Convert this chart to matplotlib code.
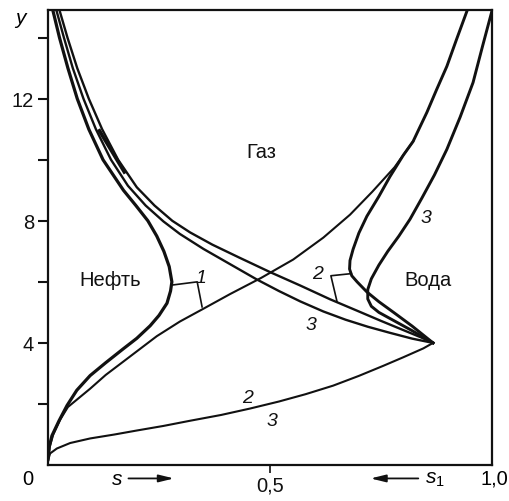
import matplotlib.pyplot as plt

plt.rcParams['font.family'] = ['Liberation Sans', 'DejaVu Sans']
plt.rcParams['mathtext.fontset'] = 'custom'
plt.rcParams['mathtext.it'] = 'Liberation Sans:italic'
plt.rcParams['mathtext.rm'] = 'Liberation Sans'

# oil boundary, case 1 (thick curve with the nose)
oil1_s = [0.011, 0.026, 0.045, 0.066, 0.092, 0.124, 0.17, 0.198, 0.225, 0.245, 0.261, 0.273,
          0.279, 0.276, 0.268, 0.25, 0.23, 0.2, 0.169, 0.13, 0.095, 0.065, 0.043, 0.025, 0.009, 0.003, 0.0]
oil1_y = [14.9, 14.0, 13.0, 12.0, 11.0, 10.0, 9.0, 8.5, 8.0, 7.5, 7.0, 6.5,
          6.0, 5.7, 5.3, 4.9, 4.56, 4.15, 3.8, 3.35, 2.93, 2.45, 1.95, 1.45, 0.96, 0.6, 0.15]

# curve rising from the origin to the junction near s = 0.82
rise_s = [0.0, 0.004, 0.012, 0.028, 0.045, 0.07, 0.095, 0.13, 0.169, 0.207, 0.245, 0.297, 0.35,
          0.41, 0.48, 0.552, 0.62, 0.68, 0.73, 0.78, 0.822]
rise_y = [0.15, 0.6, 1.0, 1.5, 1.9, 2.2, 2.5, 2.95, 3.38, 3.8, 4.22, 4.7, 5.12,
          5.6, 6.13, 6.73, 7.45, 8.2, 8.95, 9.75, 10.6]

# double line from the upper left corner to the common point
upper_a_s = [0.026, 0.044, 0.066, 0.092, 0.122, 0.158, 0.2, 0.24, 0.28, 0.32, 0.37, 0.43, 0.5,
             0.568, 0.635, 0.7, 0.75, 0.8, 0.84, 0.867]
upper_a_y = [14.9, 14.0, 13.0, 12.0, 11.0, 10.0, 9.1, 8.5, 8.0, 7.62, 7.22, 6.8, 6.32,
             5.88, 5.43, 5.03, 4.72, 4.42, 4.18, 4.0]
upper_b_s = [0.019, 0.036, 0.056, 0.08, 0.108, 0.142, 0.18, 0.22, 0.26, 0.297, 0.35, 0.41, 0.47,
             0.52, 0.568, 0.62, 0.67, 0.72, 0.77, 0.82, 0.867]
upper_b_y = [14.9, 14.0, 13.0, 12.0, 11.0, 10.0, 9.15, 8.5, 7.98, 7.57, 7.08, 6.58, 6.08,
             5.7, 5.36, 5.03, 4.76, 4.53, 4.33, 4.14, 4.0]
# short dark stroke between the two lines
dark_s = [0.116, 0.172]
dark_y = [10.95, 9.6]

# lower curve (cases 2 and 3)
low_s = [0.0, 0.005, 0.02, 0.05, 0.095, 0.15, 0.2, 0.26, 0.32, 0.39, 0.455, 0.52, 0.58,
         0.642, 0.7, 0.755, 0.8, 0.845, 0.867]
low_y = [0.15, 0.38, 0.54, 0.72, 0.87, 1.0, 1.13, 1.28, 1.45, 1.64, 1.85, 2.08, 2.32,
         2.6, 2.92, 3.25, 3.53, 3.82, 4.0]

# water boundary, case 2
water2_s = [0.944, 0.92, 0.898, 0.875, 0.853, 0.835, 0.822, 0.8, 0.77, 0.745, 0.718, 0.7, 0.687,
            0.68, 0.679, 0.684, 0.696, 0.718, 0.745, 0.78, 0.82, 0.867]
water2_y = [14.9, 13.95, 13.06, 12.3, 11.55, 11.0, 10.6, 10.15, 9.45, 8.8, 8.15, 7.6, 7.07,
            6.7, 6.42, 6.2, 6.0, 5.67, 5.35, 4.98, 4.55, 4.0]

# water boundary, case 3
water3_s = [1.0, 0.978, 0.957, 0.928, 0.898, 0.87, 0.842, 0.815, 0.79, 0.765, 0.745, 0.728, 0.72,
            0.72, 0.728, 0.745, 0.78, 0.82, 0.867]
water3_y = [14.9, 13.7, 12.53, 11.4, 10.34, 9.5, 8.75, 8.05, 7.5, 7.0, 6.55, 6.1, 5.75,
            5.44, 5.2, 5.0, 4.72, 4.4, 4.0]

# brackets joining curves of one case
bracket1_s = [0.282, 0.336, 0.347]
bracket1_y = [5.9, 6.0, 5.18]
bracket2_s = [0.683, 0.637, 0.651]
bracket2_y = [6.27, 6.2, 5.34]

curve_labels = [("1", 0.345, 6.15), ("2", 0.606, 6.27), ("3", 0.592, 4.6),
                ("2", 0.45, 2.2), ("3", 0.505, 1.45), ("3", 0.85, 8.12)]
region_labels = [("Газ", 0.48, 10.28), ("Нефть", 0.14, 6.07), ("Вода", 0.856, 6.07)]

fig = plt.figure(figsize=(5.1, 5.02), dpi=100)
ax = fig.add_axes([0.094, 0.0717, 0.871, 0.906])

k = '#111111'
ax.plot(oil1_s, oil1_y, color=k, lw=2.3, solid_capstyle='round')
ax.plot(rise_s, rise_y, color=k, lw=1.5)
ax.plot(upper_a_s, upper_a_y, color=k, lw=1.7)
ax.plot(upper_b_s, upper_b_y, color=k, lw=1.7)
ax.plot(dark_s, dark_y, color=k, lw=2.6)
ax.plot(low_s, low_y, color=k, lw=1.5)
ax.plot(water2_s, water2_y, color=k, lw=2.1)
ax.plot(water3_s, water3_y, color=k, lw=2.1)
ax.plot(bracket1_s, bracket1_y, color=k, lw=1.2)
ax.plot(bracket2_s, bracket2_y, color=k, lw=1.2)

for t, sx, sy in curve_labels:
    ax.text(sx, sy, t, fontsize=14, style='italic', ha='center', va='center', color=k)
for t, sx, sy in region_labels:
    ax.text(sx, sy, t, fontsize=14.5, ha='center', va='center', color=k)

ax.set_xlim(0, 1.0)
ax.set_ylim(0, 14.9)
ax.set_yticks([2, 4, 6, 8, 10, 12, 14])
ax.set_yticklabels(['', '4', '', '8', '', '12', ''])
ax.set_xticks([0.5])
ax.set_xticklabels(['0,5'])
ax.tick_params(axis='y', direction='out', length=7, width=1.5, labelsize=14.5, pad=3, colors=k)
ax.tick_params(axis='x', direction='out', length=5.5, width=1.2, labelsize=14.5, pad=2, colors=k)
for sp in ax.spines.values():
    sp.set_linewidth(1.6)
    sp.set_color(k)

ax.text(-0.045, -0.44, "0", fontsize=14.5, ha='center', va='center', clip_on=False)
ax.text(1.005, -0.44, "1,0", fontsize=14.5, ha='center', va='center', clip_on=False)
ax.text(-0.061, 14.67, "y", fontsize=15, style='italic', ha='center', va='center', clip_on=False)

ax.text(0.155, -0.44, "s", fontsize=15, style='italic', ha='center', va='center', clip_on=False)
ax.annotate("", xy=(0.29, -0.44), xytext=(0.175, -0.44), annotation_clip=False,
            arrowprops=dict(arrowstyle='-|>,head_length=0.9,head_width=0.22', color=k, lw=1.3))
ax.text(0.872, -0.44, "$s_\\mathrm{1}$", fontsize=15, ha='center', va='center', clip_on=False)
ax.annotate("", xy=(0.72, -0.44), xytext=(0.84, -0.44), annotation_clip=False,
            arrowprops=dict(arrowstyle='-|>,head_length=0.9,head_width=0.22', color=k, lw=1.3))

plt.savefig("out.png", dpi=100)
